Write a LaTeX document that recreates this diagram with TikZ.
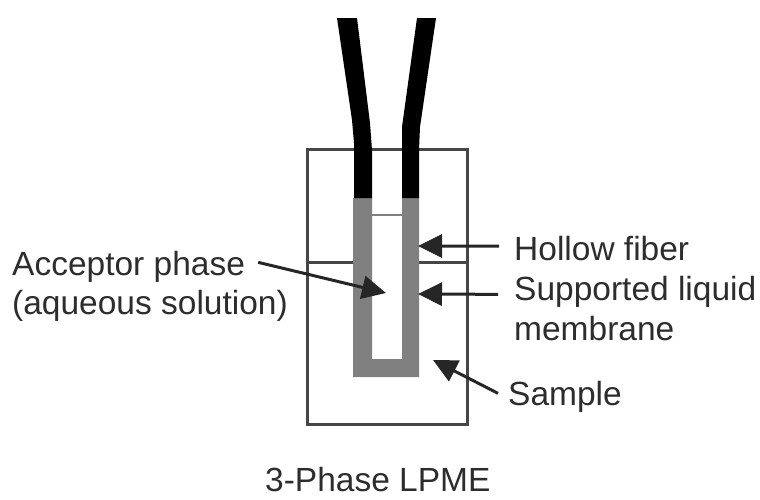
\documentclass[tikz,border=0pt]{standalone}
\usepackage{fontspec}
\setmainfont{Liberation Sans}
\usepackage{xcolor}
\usetikzlibrary{arrows.meta,positioning}
\definecolor{Xline}{RGB}{70,70,70}
\definecolor{Xmembrane}{RGB}{128,128,128}
\definecolor{Xtext}{RGB}{45,45,45}
\tikzset{
  leader/.style={-{Triangle[length=24pt,width=23pt]}, line width=3pt, draw=black!85},
  tag/.style={anchor=base west, inner sep=0pt, text=Xtext, font=\fontsize{33.5}{40}\selectfont},
  vial/.style={draw=Xline, line width=3pt}
}
\begin{document}
\begin{tikzpicture}[x=1pt,y=-1pt]
  \useasboundingbox (0,0) rectangle (760,499);
  % sample vial
  \draw[vial] (307,149) rectangle (467,424);
  \draw[vial] (307,262) -- (356,262);
  \draw[vial] (417,262) -- (467,262);
  % fiber
  \fill[Xmembrane] (353,198) -- (372,198) -- (372,359) -- (402,359) -- (402,198) -- (419,198) -- (419,377) -- (353,377) -- cycle;
  \fill[black] (337,18) -- (357,18) -- (370,123) -- (372,150) -- (372,198) -- (354,198) -- (354,143) -- (352,120) -- cycle;
  \fill[black] (417,18) -- (436,18) -- (420,127) -- (419,150) -- (419,198) -- (402,198) -- (402,127) -- cycle;
  \draw[Xmembrane, line width=2pt] (371,215) -- (402,215);
  % arrow ends
  \coordinate (hollowtip) at (418,246);
  \coordinate (liquidtip) at (418,294);
  \coordinate (acceptortip) at (386,293);
  \coordinate (sampletip) at (433,360);
  % labels
  \node[tag] (hollow) at (514,260) {Hollow fiber};
  \node[tag] (liquid) at (514,300) {Supported liquid};
  \node[tag] (membrane) at (514,340) {membrane};
  \node[tag] (sample) at (508,405) {Sample};
  \node[tag] (acceptor) at (12,275) {Acceptor phase};
  \node[tag] (aqueous) at (12,314) {(aqueous solution)};
  \node[tag] (title) at (265,491) {3-Phase LPME};
  \draw[leader] (hollow.west) ++(-15,-2) coordinate (hollowend) -- (hollowtip);
  \draw[leader] (liquid.west) ++(-16,3) coordinate (liquidend) -- (liquidtip);
  \draw[leader] (acceptor.east) ++(13,-4) coordinate (acceptorend) -- (acceptortip);
  \draw[leader] (sample.west) ++(-10,-3) coordinate (sampleend) -- (sampletip);
\end{tikzpicture}
\end{document}
